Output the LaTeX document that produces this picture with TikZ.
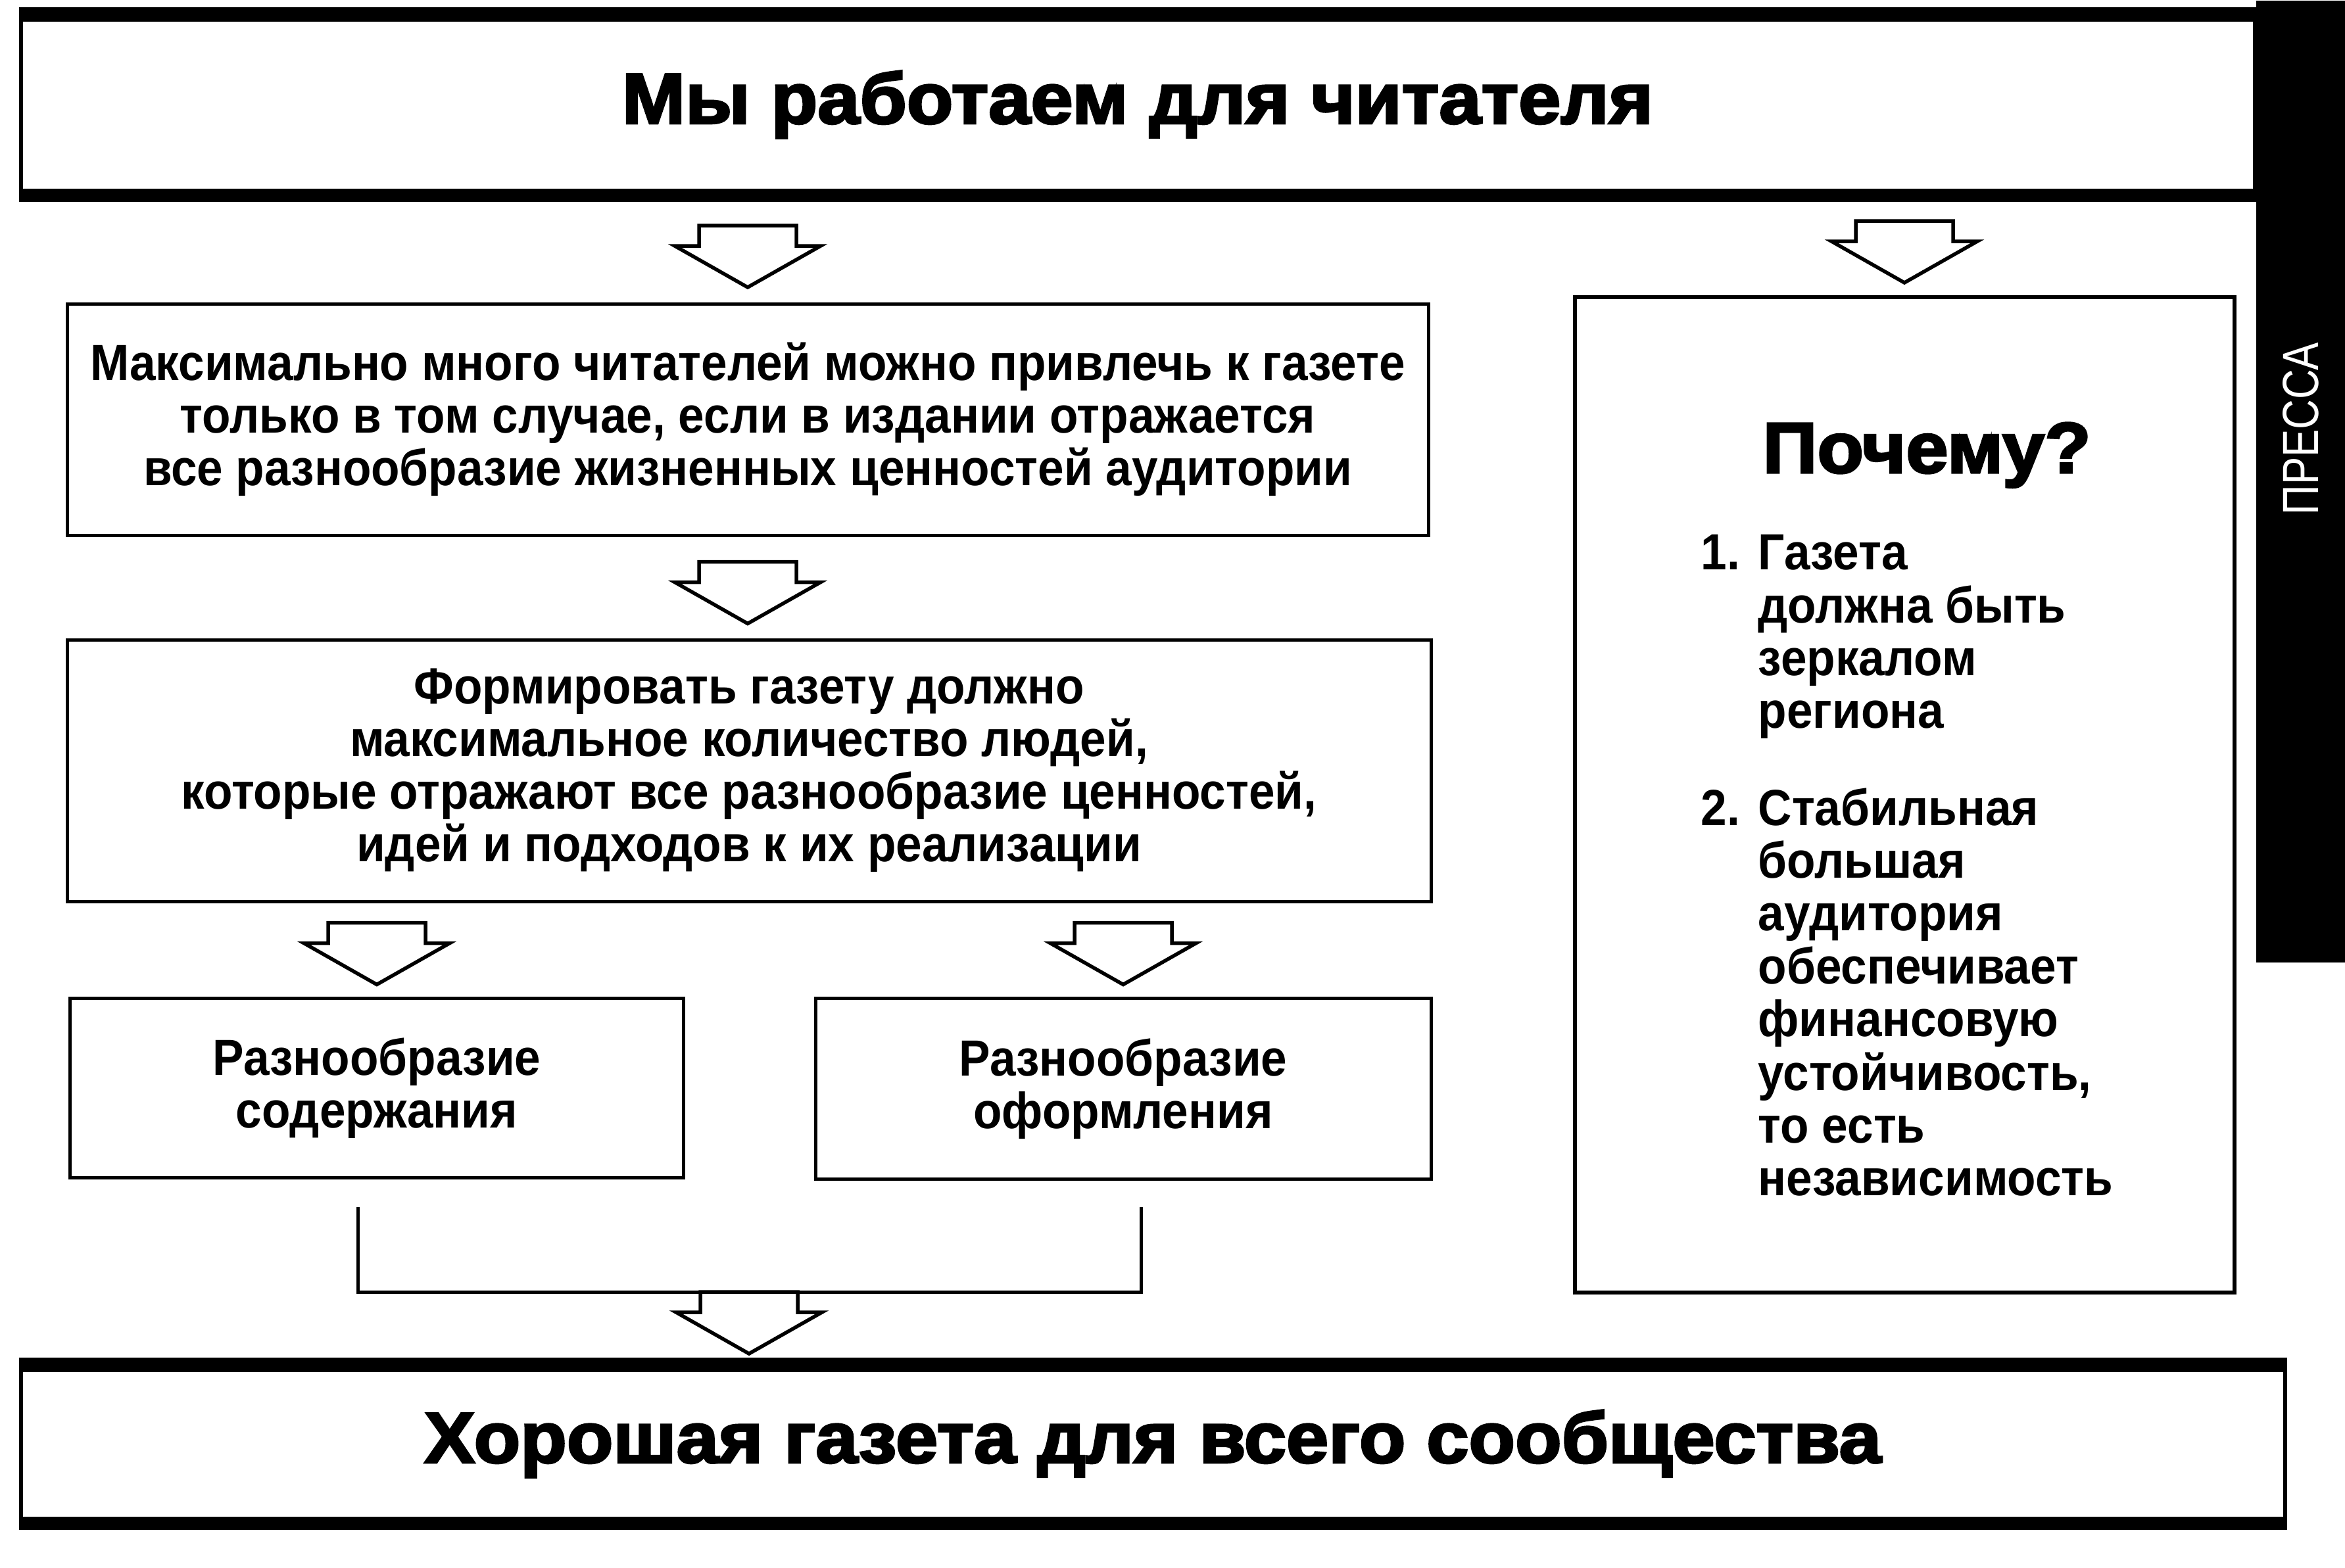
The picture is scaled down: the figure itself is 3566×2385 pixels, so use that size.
\documentclass[tikz,border=0pt]{standalone}
\usepackage{fontspec}
\setmainfont{Liberation Sans}
\newfontfamily\bodyfont[FakeStretch=0.92]{Liberation Sans}
\newfontfamily\titlefont[FakeBold=3, FakeStretch=1.06]{Liberation Sans}
\newfontfamily\tabfont[FakeStretch=0.82]{Liberation Sans}
\usepackage{tikz}

\tikzset{
    pics/blockarrow/.style={code={
        \draw[hollow] (-74,0) -- (74,0) -- (74,31) -- (111,31) -- (0,94) -- (-111,31) -- (-74,31) -- cycle;
    }}
}

\begin{document}
\begin{tikzpicture}[
    x=0.1mm, y=-0.1mm,
    every node/.style={inner sep=0pt},
    body/.style={font=\bodyfont\bfseries\fontsize{22}{22.76}\selectfont},
    title/.style={font=\titlefont\bfseries\fontsize{31}{36}\selectfont},
    block/.style={draw, line width=0.5mm, align=center, body},
    banner/.style={draw, line width=0.6mm, align=center, title},
    hollow/.style={draw, line width=0.55mm, fill=white},
    link/.style={draw, line width=0.5mm}
]
\useasboundingbox (0,0) rectangle (3566,2385);

% top and bottom banners
\node[banner, minimum width=339.7mm, minimum height=29mm] (top) at (1730,159) {Мы работаем для читателя};
\node[banner, minimum width=344.3mm, minimum height=25.6mm] (bottom) at (1753,2196) {Хорошая газета для всего сообщества};
\foreach \n in {top,bottom} {
    \fill (\n.north west) rectangle ([yshift=-2.2mm]\n.north east);
    \fill (\n.south west) rectangle ([yshift=2mm]\n.south east);
}

% side tab
\node[fill=black, minimum width=13.6mm, minimum height=146.3mm, anchor=north west] (tab) at (3430,0) {};
\node[rotate=90, text=white, font=\tabfont\fontsize{22}{26}\selectfont] (press) at ([yshift=8mm]tab.center) {ПРЕССА};

% main column
\node[block, minimum width=207mm, minimum height=35.2mm] (box1) at (1137,638)
    {Максимально много читателей можно привлечь к газете\\только в том случае, если в издании отражается\\все разнообразие жизненных ценностей аудитории};
\node[block, minimum width=207.4mm, minimum height=39.8mm] (box2) at (1139,1172)
    {Формировать газету должно\\максимальное количество людей,\\которые отражают все разнообразие ценностей,\\идей и подходов к их реализации};
\node[block, minimum width=93.3mm, minimum height=27.3mm] (content) at (573,1655) {Разнообразие\\содержания};
\node[block, minimum width=93.6mm, minimum height=27.5mm] (design) at (1708,1656) {Разнообразие\\оформления};

% right column
\node[block, minimum width=100.3mm, minimum height=151.4mm, line width=0.6mm] (why) at (2896,1209) {};
\node[title, anchor=base] (whyhead) at (2930,719) {Почему?};
\node[body, anchor=north west] (reasons) at (2586,810) {%
\begin{tabular}{@{}p{8.7mm}@{}l@{}}
1. & Газета\\
   & должна быть\\
   & зеркалом\\
   & региона\\[6.7mm]
2. & Стабильная\\
   & большая\\
   & аудитория\\
   & обеспечивает\\
   & финансовую\\
   & устойчивость,\\
   & то есть\\
   & независимость
\end{tabular}};

% arrows
\path (top.south -| box1.south) ++(0,36) coordinate (a1);
\path (top.south -| why.north) ++(0,29) coordinate (a2);
\path (box1.south) ++(0,38) coordinate (a3);
\path (box2.south -| content.north) ++(0,30) coordinate (a4);
\path (box2.south -| design.north) ++(0,30) coordinate (a5);
\path (content.south) ++(-29,42) coordinate (jl);
\path (design.south) ++(27,40) coordinate (jr);
\path (jl) ++(0,129) coordinate (jm);
\draw[link] (jl) |- (jm -| jr) -- (jr);
\foreach \a in {a1,a2,a3,a4,a5} \pic at (\a) {blockarrow};
\pic at (jm -| box2.south) {blockarrow};
\end{tikzpicture}
\end{document}
